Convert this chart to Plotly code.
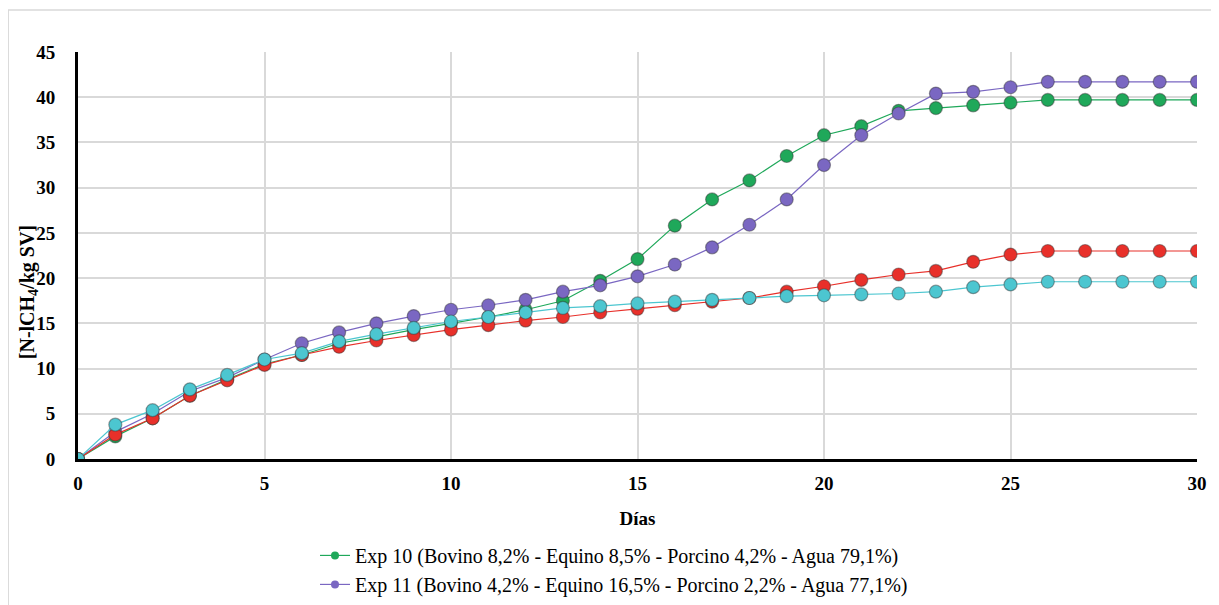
import plotly.graph_objects as go

days = list(range(0, 31))

exp10 = [0, 2.5, 4.5, 7.0, 8.8, 10.5, 11.5, 12.8, 13.5, 14.3, 15.0, 15.7, 16.5, 17.5, 19.7,
         22.1, 25.8, 28.7, 30.8, 33.5, 35.8, 36.8, 38.5, 38.8, 39.1, 39.4, 39.7, 39.7, 39.7, 39.7, 39.7]
exp11 = [0, 3.0, 5.0, 7.5, 9.0, 11.0, 12.8, 14.0, 15.0, 15.8, 16.5, 17.0, 17.6, 18.5, 19.2,
         20.2, 21.5, 23.4, 25.9, 28.7, 32.5, 35.8, 38.2, 40.4, 40.6, 41.1, 41.7, 41.7, 41.7, 41.7, 41.7]
exp_red = [0, 2.7, 4.5, 7.0, 8.7, 10.4, 11.5, 12.4, 13.1, 13.7, 14.3, 14.8, 15.3, 15.7, 16.2,
           16.6, 17.0, 17.4, 17.8, 18.5, 19.1, 19.8, 20.4, 20.8, 21.8, 22.6, 23.0, 23.0, 23.0, 23.0, 23.0]
exp_cyan = [0, 3.8, 5.4, 7.7, 9.3, 11.0, 11.7, 13.0, 13.8, 14.5, 15.2, 15.7, 16.2, 16.7, 16.9,
            17.2, 17.4, 17.6, 17.8, 18.0, 18.1, 18.2, 18.3, 18.5, 19.0, 19.3, 19.6, 19.6, 19.6, 19.6, 19.6]

names = ["Exp 10 (Bovino 8,2% - Equino 8,5% - Porcino 4,2% - Agua 79,1%)",
         "Exp 11 (Bovino 4,2% - Equino 16,5% - Porcino 2,2% - Agua 77,1%)",
         "Exp red", "Exp cyan"]
colors = ["#1fa85a", "#7a67c2", "#e8302a", "#4cc6d0"]
x_ticks = [0, 5, 10, 15, 20, 25, 30]
y_ticks = [0, 5, 10, 15, 20, 25, 30, 35, 40, 45]

fig = go.Figure()
series = [exp10, exp11, exp_red, exp_cyan]
for i in range(4):
    fig.add_trace(go.Scatter(
        x=days, y=series[i], mode="lines+markers", name=names[i],
        line=dict(color=colors[i], width=1.2),
        marker=dict(size=13, color=colors[i], line=dict(color="rgba(50,50,50,0.45)", width=1.2)),
        showlegend=False, legendgroup=str(i)))
# legend entries (smaller symbols, as in the reference legend)
for i in range(2):
    fig.add_trace(go.Scatter(
        x=[None], y=[None], mode="lines+markers", name=names[i], legendgroup=str(i),
        line=dict(color=colors[i], width=1.2), marker=dict(size=8, color=colors[i]),
        showlegend=True))

serif = "Times New Roman, Liberation Serif, DejaVu Serif, serif"
fig.update_layout(
    width=1211, height=620,
    paper_bgcolor="white", plot_bgcolor="white",
    margin=dict(l=70, r=20, t=44, b=169),
    font=dict(family=serif, color="black"),
    xaxis=dict(range=[0, 30], tickvals=x_ticks, showgrid=True, gridcolor="#d9d9d9", gridwidth=1.5,
               zeroline=False, showline=True, linecolor="black", linewidth=3,
               ticks="", ticklabelstandoff=5,
               tickfont=dict(family=serif, size=19, color="black", weight="bold"),
               title=dict(text="<b>Días</b>", font=dict(family=serif, size=19), standoff=19)),
    yaxis=dict(range=[0, 45], tickvals=y_ticks, showgrid=True, gridcolor="#d9d9d9", gridwidth=1.5,
               zeroline=False, showline=True, linecolor="black", linewidth=3,
               ticks="", ticklabelstandoff=16,
               tickfont=dict(family=serif, size=19, color="black", weight="bold")),
    legend=dict(x=0.479, xanchor="center", y=-0.189, yanchor="top", orientation="v",
                font=dict(family=serif, size=20, color="black"), bgcolor="rgba(0,0,0,0)",
                tracegroupgap=0),
    annotations=[dict(text="<b>[N-lCH<sub>4</sub>/kg SV]</b>", textangle=-90, xref="paper", yref="paper",
                      x=-0.0446, y=0.41, xanchor="center", yanchor="middle", showarrow=False,
                      font=dict(family=serif, size=20, color="black"))],
    shapes=[dict(type="rect", xref="paper", yref="paper", x0=-0.0624, x1=1.03, y0=-0.45, y1=1.103,
                 line=dict(color="#d9d9d9", width=1.5), fillcolor="rgba(0,0,0,0)", layer="below")],
)

fig.write_html("out.html")
